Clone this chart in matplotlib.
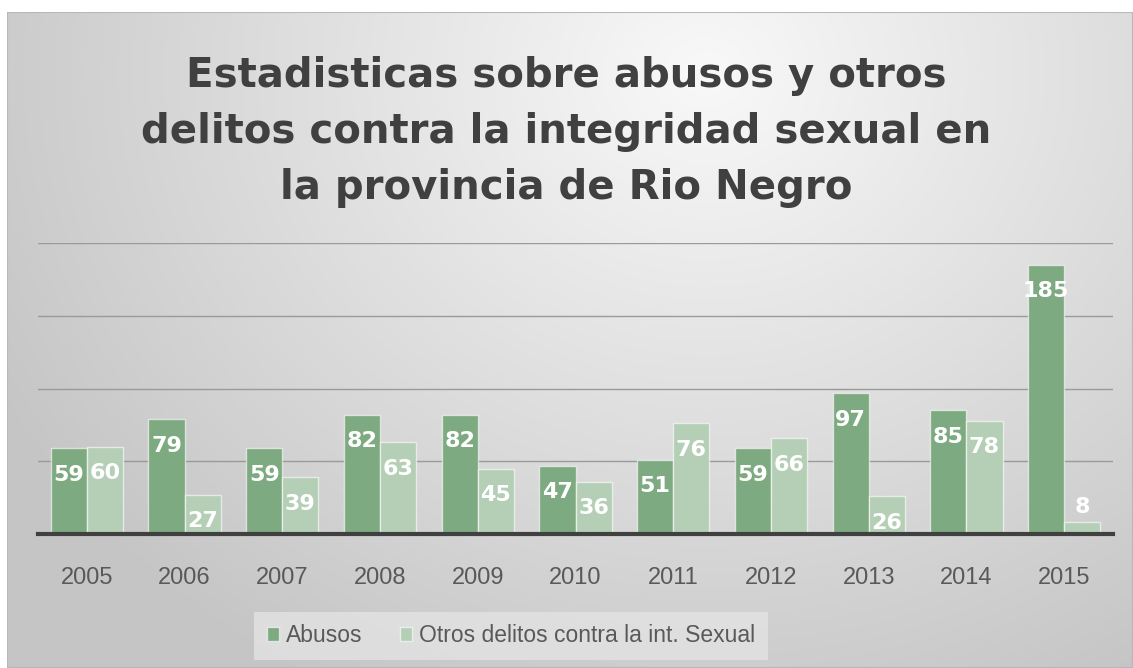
import numpy as np
import matplotlib
matplotlib.use("Agg")
import matplotlib.pyplot as plt
from matplotlib.patches import Rectangle

years = ["2005", "2006", "2007", "2008", "2009", "2010", "2011", "2012", "2013", "2014", "2015"]
abusos = [59, 79, 59, 82, 82, 47, 51, 59, 97, 85, 185]
otros = [60, 27, 39, 63, 45, 36, 76, 66, 26, 78, 8]
series_names = ["Abusos", "Otros delitos contra la int. Sexual"]
title = "Estadisticas sobre abusos y otros\ndelitos contra la integridad sexual en\nla provincia de Rio Negro"

W, H = 1133, 668
fig = plt.figure(figsize=(W / 100, H / 100), dpi=100)
fig.patch.set_facecolor("white")

# chart area background (radial gradient)
x0, y0 = 7, 12
bg = fig.add_axes([x0 / W, 0, (W - x0) / W, (H - y0) / H])
bg.set_axis_off()
gx = np.linspace(0, W - x0, 400)
gy = np.linspace(0, H - y0, 240)
XX, YY = np.meshgrid(gx, gy)
cx, cy = 700, 60
d = np.sqrt(((XX - cx) / 800) ** 2 + ((YY - cy) / 700) ** 2)
d = np.clip(d, 0, 1)
val = 0.975 - 0.20 * d
img = np.dstack([val, val, val])
bg.imshow(img, aspect="auto", extent=[0, 1, 0, 1], origin="upper")
bg.set_xlim(0, 1)
bg.set_ylim(0, 1)
bg.add_patch(Rectangle((0, 0), 1, 1, fill=False, edgecolor="#b8b8b8", lw=1.5, transform=bg.transAxes))

# plot area
left, right = 38, 1113
top, bottom = 243, 534
ax = fig.add_axes([left / W, (H - bottom) / H, (right - left) / W, (bottom - top) / H])
ax.set_facecolor("none")
ax.set_ylim(0, 200)
n = len(years)
ax.set_xlim(-0.5, n - 0.5)
x = np.arange(n)
bw = 0.37
dark = "#7daa80"
light = "#b4cfb5"
b1 = ax.bar(x - bw / 2, abusos, bw, color=dark, edgecolor=(1, 1, 1, 0.6), linewidth=1.0, zorder=3, label=series_names[0])
b2 = ax.bar(x + bw / 2, otros, bw, color=light, edgecolor=(1, 1, 1, 0.6), linewidth=1.0, zorder=3, label=series_names[1])

lab_font = dict(family=["DejaVu Sans"], fontsize=16, fontweight="bold", color="white")
for bars, vals in ((b1, abusos), (b2, otros)):
    for rect, v in zip(bars, vals):
        cxr = rect.get_x() + rect.get_width() / 2
        if v < 15:
            ax.annotate(str(v), (cxr, v), xytext=(0, 4), textcoords="offset points",
                        ha="center", va="bottom", zorder=4, **lab_font)
        else:
            ax.annotate(str(v), (cxr, v), xytext=(0, -12), textcoords="offset points",
                        ha="center", va="top", zorder=4, **lab_font)

ax.set_yticks([50, 100, 150, 200])
ax.yaxis.grid(True, color="#9a9a9a", linewidth=1.0, zorder=0)
ax.tick_params(axis="y", left=False, labelleft=False)
ax.tick_params(axis="x", bottom=False, pad=20)
ax.set_xticks(x)
ax.set_xticklabels(years, family=["Liberation Sans", "DejaVu Sans"], fontsize=17, color="#595959")
for s in ["top", "right", "left"]:
    ax.spines[s].set_visible(False)
ax.spines["bottom"].set_color("#404040")
ax.spines["bottom"].set_linewidth(3)
ax.spines["bottom"].set_zorder(5)

fig.text(566 / W, 1 - 132 / H, title, ha="center", va="center", fontsize=29, fontweight="bold",
         family=["DejaVu Sans"], color="#404040", linespacing=1.52)

leg = fig.legend(handles=[b1, b2], labels=series_names, loc="center", bbox_to_anchor=(511 / W, 1 - 636 / H),
                 ncol=2, frameon=True, handlelength=0.55, handleheight=0.55, handletextpad=0.3,
                 columnspacing=1.6, borderpad=0.55, borderaxespad=0, fancybox=False,
                 prop=dict(family=["Liberation Sans", "DejaVu Sans"], size=16.5))
leg.get_frame().set_facecolor("#e3e3e3")
leg.get_frame().set_edgecolor("none")
for t in leg.get_texts():
    t.set_color("#595959")

fig.savefig("out.png", dpi=100)
